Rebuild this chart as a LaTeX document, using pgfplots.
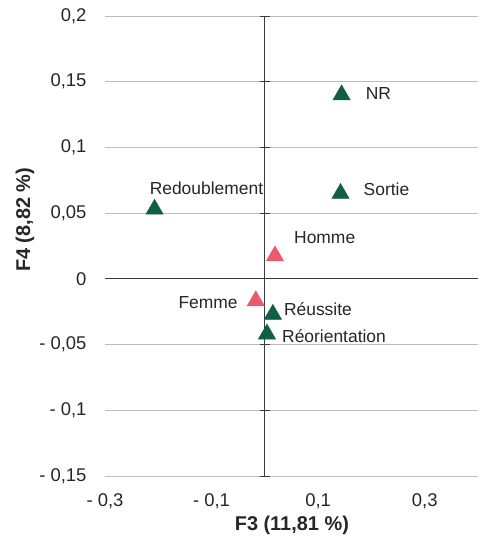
\documentclass[border=0pt]{standalone}
\usepackage{pgfplots}
\pgfplotsset{compat=1.18}
\usepackage{fontspec}
\setmainfont{Liberation Sans}
\definecolor{dgreen}{HTML}{0F5E45}
\definecolor{pinkm}{HTML}{E85A6C}
\definecolor{gridc}{HTML}{BDBDBD}
\definecolor{axc}{HTML}{3A3A3A}
\begin{document}
\begin{tikzpicture}
\begin{axis}[
  scale only axis, width=373bp, height=460bp,
  xmin=-0.3, xmax=0.4, ymin=-0.15, ymax=0.2,
  axis line style={draw=none},
  xtick={-0.3,-0.1,0.1,0.3},
  xticklabels={{- 0,3},{- 0,1},{0,1},{0,3}},
  ytick={-0.15,-0.1,-0.05,0,0.05,0.1,0.15,0.2},
  yticklabels={{- 0,15},{- 0,1},{- 0,05},0,{0,05},{0,1},{0,15},{0,2}},
  major tick length=0pt,
  ymajorgrids, grid style={gridc, line width=0.8bp},
  tick label style={font=\fontsize{18.5}{22}\selectfont, text=black!85},
  xticklabel style={yshift=-14bp},
  yticklabel style={xshift=-15bp},
  xlabel={\bfseries F3 (11,81 \%)},
  ylabel={\bfseries F4 (8,82 \%)},
  label style={font=\fontsize{20}{24}\selectfont, text=black!85},
  xlabel style={at={(rel axis cs:0.501,0)}, anchor=center, yshift=-49bp},
  ylabel style={at={(rel axis cs:0,0.557)}, anchor=center, yshift=80bp},
  clip=false,
]
\coordinate (sw) at (rel axis cs:0,0);
\draw[axc, line width=1bp] (axis cs:0,-0.15) -- (axis cs:0,0.2);
\draw[axc, line width=1bp] (axis cs:-0.3,0) -- (axis cs:0.4,0);
\pgfplotsinvokeforeach{-0.15,-0.1,-0.05,0.05,0.1,0.15,0.2}{
  \draw[axc, line width=0.8bp] ([xshift=-5bp]axis cs:0,#1) -- ([xshift=5bp]axis cs:0,#1);
}
\addplot[only marks, mark=triangle*, mark size=10bp, color=dgreen, fill=dgreen]
  coordinates {(0.144,0.140) (0.142,0.065) (-0.207,0.053) (0.015,-0.027) (0.004,-0.042)};
\addplot[only marks, mark=triangle*, mark size=10bp, color=pinkm, fill=pinkm]
  coordinates {(0.019,0.0175) (-0.017,-0.0167)};
\begin{scope}[every node/.style={font=\fontsize{17.5}{21}\selectfont, text=black!85, inner sep=0pt}]
\node[anchor=west, xshift=24bp, yshift=1bp] at (axis cs:0.144,0.140) {NR};
\node[anchor=west, xshift=23bp, yshift=4bp] at (axis cs:0.142,0.065) {Sortie};
\node[anchor=west, xshift=-5bp, yshift=21bp] at (axis cs:-0.207,0.053) {Redoublement};
\node[anchor=west, xshift=19bp, yshift=18bp] at (axis cs:0.019,0.0175) {Homme};
\node[anchor=east, xshift=-18bp, yshift=-2bp] at (axis cs:-0.017,-0.0167) {Femme};
\node[anchor=west, xshift=11bp, yshift=5bp] at (axis cs:0.015,-0.027) {Réussite};
\node[anchor=west, xshift=15bp, yshift=-2bp] at (axis cs:0.004,-0.042) {Réorientation};
\end{scope}
\end{axis}
\pgfresetboundingbox
\path (sw) ++(-105bp,-68bp) rectangle ++(482bp,544bp);
\end{tikzpicture}
\end{document}
